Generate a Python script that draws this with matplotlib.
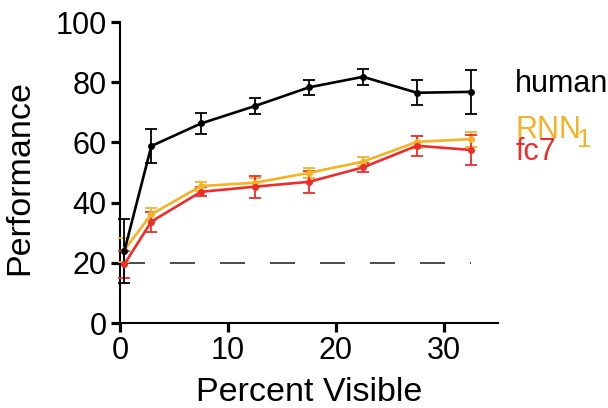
import matplotlib
matplotlib.use("Agg")
import matplotlib.pyplot as plt

plt.rcParams['font.family'] = ['Liberation Sans', 'DejaVu Sans']

percent_visible = [0.4, 2.9, 7.5, 12.5, 17.5, 22.5, 27.5, 32.5]

human = [23.9, 58.8, 66.3, 72.1, 78.3, 81.8, 76.5, 76.8]
human_err = [10.5, 5.5, 3.6, 2.8, 2.5, 2.7, 4.1, 7.2]

rnn = [24.3, 36.1, 45.5, 46.6, 49.9, 53.6, 60.2, 61.1]
rnn_err = [4.0, 2.0, 1.5, 1.5, 1.7, 1.5, 2.0, 2.5]

fc7 = [19.5, 33.7, 43.6, 45.3, 46.9, 51.7, 58.9, 57.5]
fc7_err = [4.5, 3.3, 1.5, 3.6, 3.7, 1.5, 3.3, 5.0]

chance = 20

orange = '#F3B324'
red = '#EE2C2C'

series = [
    ("RNN", rnn, rnn_err, orange),
    ("fc7", fc7, fc7_err, red),
    ("human", human, human_err, 'black'),
]

fig = plt.figure(figsize=(6.08, 4.08), dpi=100)
ax = fig.add_axes([0.1974, 0.2083, 0.6216, 0.7377])

# chance level
ax.plot([0, 32.5], [chance, chance], color='#2b2b2b', lw=1.2,
        dashes=[15, 15], dash_capstyle='butt', zorder=1, scalex=False)

for name, vals, err, col in series:
    ax.errorbar(percent_visible, vals, yerr=err, color=col, lw=1.9,
                marker='o', ms=4, mfc=col, mec=col, elinewidth=1.3,
                capsize=4, capthick=1.3, clip_on=False, zorder=3)

ax.set_xlim(0, 35)
ax.set_ylim(0, 100)
ax.set_xticks([0, 10, 20, 30])
ax.set_yticks([0, 20, 40, 60, 80, 100])

for s in ['top', 'right']:
    ax.spines[s].set_visible(False)
for s in ['left', 'bottom']:
    ax.spines[s].set_linewidth(1.5)
ax.tick_params(labelsize=22, width=2.3, length=6.5, direction='out')
ax.tick_params(axis='y', pad=3)
ax.tick_params(axis='x', pad=3)

ax.set_xlabel("Percent Visible", fontsize=24.5)
ax.xaxis.set_label_coords(0.5, -0.178)
ax.set_ylabel("Performance", fontsize=24.5)
ax.yaxis.set_label_coords(-0.225, 0.485)

# inline labels
ax.text(36.6, 76.7, "human", color='black', fontsize=22, va='baseline',
        clip_on=False)
ax.text(36.6, 61.5, "RNN", color=orange, fontsize=22, va='baseline',
        clip_on=False)
ax.text(42.3, 58.6, "1", color=orange, fontsize=19, va='baseline',
        clip_on=False)
ax.text(36.6, 54.2, "fc7", color=red, fontsize=22, va='baseline',
        clip_on=False)

fig.savefig("out.png", dpi=100)
